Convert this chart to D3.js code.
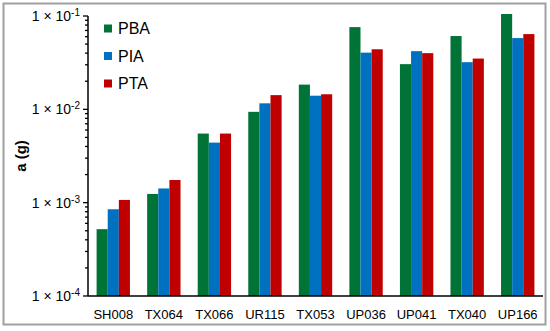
<!DOCTYPE html>
<html>
<head>
<meta charset="utf-8">
<script src="https://cdn.jsdelivr.net/npm/d3@7"></script>
<style>
  body { margin: 0; background: #fff; }
  svg { display: block; font-family: "Liberation Sans", Arial, sans-serif; }
</style>
</head>
<body>
<svg id="chart" width="550" height="331"></svg>
<script>
// data
const samples = ['SH008', 'TX064', 'TX066', 'UR115', 'TX053', 'UP036', 'UP041', 'TX040', 'UP166'];
const seriesNames = ['PBA', 'PIA', 'PTA'];
const pba = [5.2e-4, 1.24e-3, 5.5e-3, 9.4e-3, 1.84e-2, 7.6e-2, 3.05e-2, 6.1e-2, 1.05e-1];
const pia = [8.5e-4, 1.42e-3, 4.4e-3, 1.16e-2, 1.40e-2, 4.05e-2, 4.2e-2, 3.2e-2, 5.8e-2];
const pta = [1.07e-3, 1.75e-3, 5.5e-3, 1.42e-2, 1.45e-2, 4.4e-2, 4.0e-2, 3.5e-2, 6.4e-2];
const yTicks = [1e-4, 1e-3, 1e-2, 1e-1];
const colors = ['#007437', '#0070c0', '#c00000'];

const seriesValues = [pba, pia, pta];

const svg = d3.select('#chart');
const width = +svg.attr('width');
const height = +svg.attr('height');

// outer frame
svg.append('rect')
    .attr('x', 3.5).attr('y', 3.5)
    .attr('width', 542).attr('height', 321)
    .attr('fill', 'none')
    .attr('stroke', '#a0a0a0')
    .attr('stroke-width', 2);

const margin = { left: 88, right: 7, top: 16, bottom: 35 };

const x = d3.scaleBand()
    .domain(samples)
    .range([margin.left, width - margin.right])
    .paddingInner(0.34)
    .paddingOuter(0.17);

const xSub = d3.scaleBand()
    .domain(seriesNames)
    .range([0, x.bandwidth()]);

const y = d3.scaleLog()
    .domain([1e-4, 1e-1])
    .range([height - margin.bottom, margin.top]);

// bars
const groups = svg.append('g')
    .selectAll('g')
    .data(samples)
    .join('g')
    .attr('transform', d => `translate(${x(d)},0)`);

groups.selectAll('rect')
    .data((d, i) => seriesNames.map((s, j) => ({ s, v: seriesValues[j][i], c: colors[j] })))
    .join('rect')
    .attr('x', d => xSub(d.s))
    .attr('width', xSub.bandwidth())
    .attr('y', d => y(d.v))
    .attr('height', d => y(1e-4) - y(d.v))
    .attr('fill', d => d.c);

// y axis: minor ticks 2..9 per decade
const minor = [];
for (let e = -4; e < -1; e++) {
    for (let m = 2; m <= 9; m++) minor.push(m * Math.pow(10, e));
}

const yAxis = svg.append('g')
    .attr('transform', `translate(${margin.left},0)`);

yAxis.append('line')
    .attr('x1', 0).attr('x2', 0)
    .attr('y1', y(1e-1)).attr('y2', y(1e-4))
    .attr('stroke', '#000').attr('stroke-width', 1.5);

yAxis.selectAll('.minor')
    .data(minor)
    .join('line')
    .attr('class', 'minor')
    .attr('x1', -3).attr('x2', 0)
    .attr('y1', d => y(d)).attr('y2', d => y(d))
    .attr('stroke', '#000').attr('stroke-width', 1.3);

yAxis.selectAll('.major')
    .data(yTicks)
    .join('line')
    .attr('class', 'major')
    .attr('x1', -5).attr('x2', 0)
    .attr('y1', d => y(d)).attr('y2', d => y(d))
    .attr('stroke', '#000').attr('stroke-width', 1.3);

const tickLabels = yAxis.selectAll('text')
    .data(yTicks)
    .join('text')
    .attr('x', -8)
    .attr('y', d => y(d) + 5)
    .attr('text-anchor', 'end')
    .attr('font-size', 14)
    .attr('fill', '#000');

tickLabels.append('tspan').text('1 × 10');
tickLabels.append('tspan')
    .attr('dy', -5)
    .attr('font-size', 10)
    .text(d => '-' + Math.round(-Math.log10(d)));

// x axis
svg.append('line')
    .attr('x1', margin.left).attr('x2', width - margin.right)
    .attr('y1', y(1e-4)).attr('y2', y(1e-4))
    .attr('stroke', '#000').attr('stroke-width', 1.5);

svg.append('g')
    .selectAll('text')
    .data(samples)
    .join('text')
    .attr('x', d => x(d) + x.bandwidth() / 2)
    .attr('y', y(1e-4) + 23)
    .attr('text-anchor', 'middle')
    .attr('font-size', 13)
    .text(d => d);

// y axis title
svg.append('text')
    .attr('transform', `translate(26,${(y(1e-1) + y(1e-4)) / 2}) rotate(-90)`)
    .attr('text-anchor', 'middle')
    .attr('font-size', 15)
    .attr('font-weight', 'bold')
    .text('a (g)');

// legend
const legend = svg.append('g')
    .selectAll('g')
    .data(seriesNames)
    .join('g')
    .attr('transform', (d, i) => `translate(104,${28.5 + i * 27.5})`);

legend.append('rect')
    .attr('x', 0).attr('y', -4)
    .attr('width', 8).attr('height', 8)
    .attr('fill', (d, i) => colors[i]);

legend.append('text')
    .attr('x', 14)
    .attr('y', 5.5)
    .attr('font-size', 16)
    .text(d => d);
</script>
</body>
</html>
